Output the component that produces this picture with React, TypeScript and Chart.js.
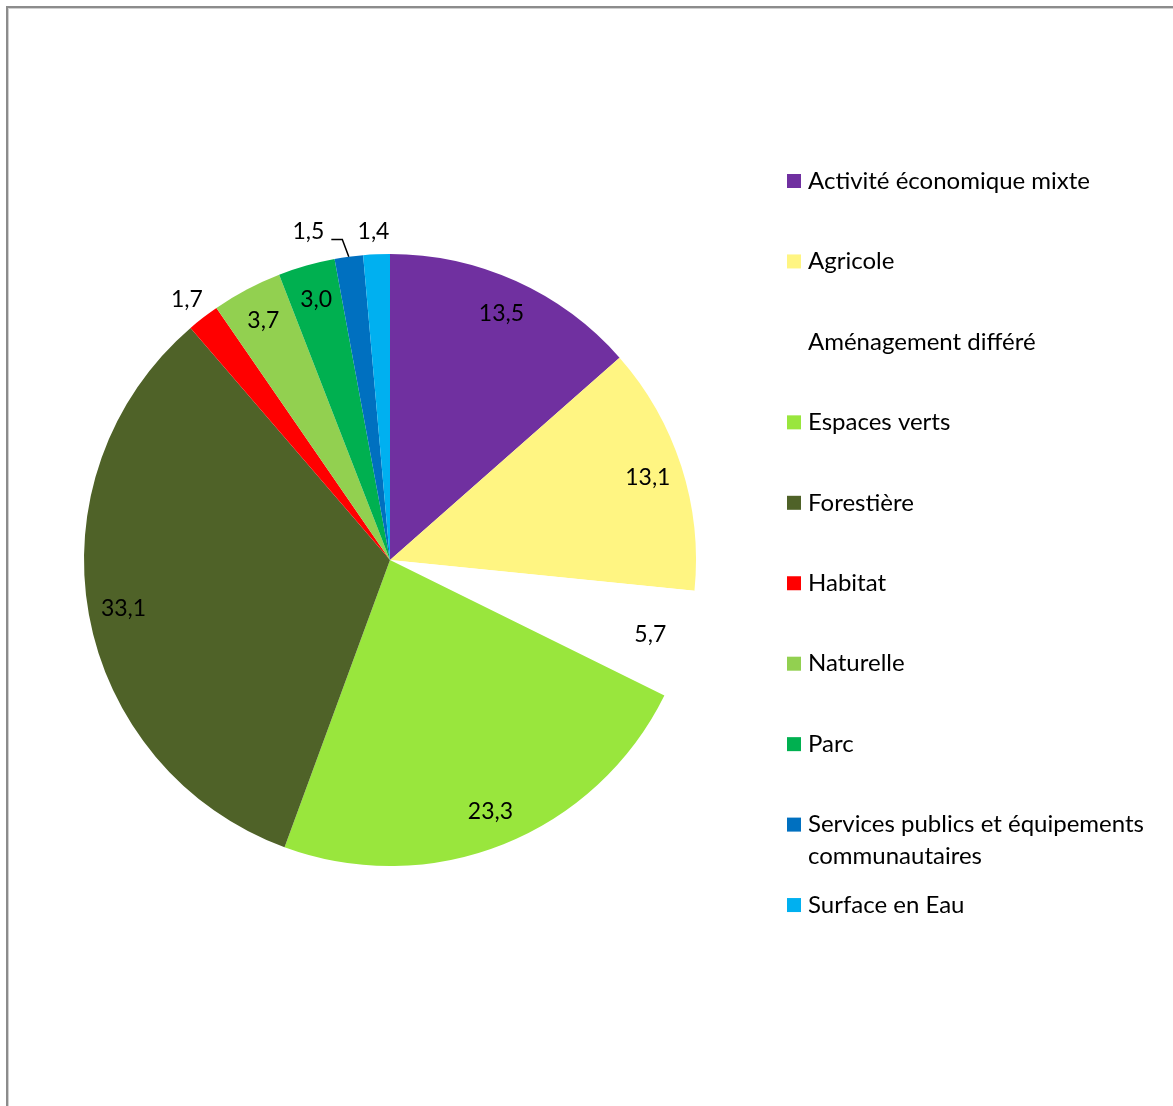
import React, { useEffect, useRef } from "react";
import { Chart, registerables } from "chart.js";

Chart.register(...registerables);

const categories = [
  "Activité économique mixte",
  "Agricole",
  "Aménagement différé",
  "Espaces verts",
  "Forestière",
  "Habitat",
  "Naturelle",
  "Parc",
  "Services publics et équipements communautaires",
  "Surface en Eau",
];
const values = [13.5, 13.1, 5.7, 23.3, 33.1, 1.7, 3.7, 3.0, 1.5, 1.4];
const colors = [
  "#7030A0",
  "#FFF582",
  "#FFFFFF",
  "#99E63D",
  "#4F6228",
  "#FF0000",
  "#92D050",
  "#00B050",
  "#0070C0",
  "#00B0F0",
];
// where each value label goes: inside the slice, outside, or outside with a leader line
const labelPlacement = ["in", "in", "in", "in", "in", "out", "in", "in", "leader", "out"];

const FONT = "Lato, 'Open Sans', sans-serif";

const fmt = (v: number) => v.toFixed(1).replace(".", ",");

const framePlugin = {
  id: "frame",
  beforeDraw(chart: any) {
    const ctx = chart.ctx;
    ctx.save();
    ctx.fillStyle = "#ffffff";
    ctx.fillRect(0, 0, chart.width, chart.height);
    ctx.fillStyle = "#8c8c8c";
    ctx.fillRect(6, 6, 2, chart.height);
    ctx.fillRect(6, 6, chart.width, 2);
    ctx.fillStyle = "#d0d0d0";
    ctx.fillRect(8, 8, 1, chart.height);
    ctx.fillRect(8, 8, chart.width, 1);
    ctx.restore();
  },
};

const labelsPlugin = {
  id: "sliceLabels",
  afterDatasetsDraw(chart: any) {
    const ctx = chart.ctx;
    const meta = chart.getDatasetMeta(0);
    ctx.save();
    ctx.font = `23px ${FONT}`;
    ctx.fillStyle = "#000000";
    ctx.textBaseline = "middle";
    meta.data.forEach((arc: any, i: number) => {
      const { x, y, startAngle, endAngle, outerRadius } = arc.getProps(
        ["x", "y", "startAngle", "endAngle", "outerRadius"],
        true
      );
      const mid = (startAngle + endAngle) / 2;
      const txt = fmt(values[i]);
      const place = labelPlacement[i];
      if (place === "in") {
        const r = outerRadius * 0.885;
        ctx.textAlign = "center";
        ctx.fillText(txt, x + Math.cos(mid) * r, y + Math.sin(mid) * r);
      } else if (place === "out") {
        const r = outerRadius * 1.077;
        ctx.textAlign = "center";
        ctx.fillText(txt, x + Math.cos(mid) * r - 2, y + Math.sin(mid) * r + 1);
      } else {
        const ex = x + Math.cos(mid) * outerRadius;
        const ey = y + Math.sin(mid) * outerRadius;
        const rr = outerRadius * 1.06;
        const bx = x + Math.cos(mid) * rr - 4;
        const by = y + Math.sin(mid) * rr + 1;
        const hx = bx - 11;
        ctx.strokeStyle = "#000000";
        ctx.lineWidth = 1.5;
        ctx.beginPath();
        ctx.moveTo(ex, ey);
        ctx.lineTo(bx, by);
        ctx.lineTo(hx, by);
        ctx.stroke();
        ctx.textAlign = "right";
        ctx.fillText(txt, hx - 7, by - 8);
      }
    });
    ctx.restore();
  },
};

const legendPlugin = {
  id: "sideLegend",
  afterDraw(chart: any) {
    const ctx = chart.ctx;
    ctx.save();
    ctx.font = `24px ${FONT}`;
    ctx.textBaseline = "middle";
    ctx.textAlign = "left";
    const x0 = 787;
    const y0 = 181;
    const step = 80.45;
    const maxW = 360;
    categories.forEach((name, i) => {
      const cy = y0 + i * step;
      ctx.fillStyle = colors[i];
      ctx.fillRect(x0, cy - 7, 14, 14);
      ctx.fillStyle = "#000000";
      const words = name.split(" ");
      const lines: string[] = [];
      let cur = "";
      for (const w of words) {
        const test = cur ? cur + " " + w : w;
        if (ctx.measureText(test).width > maxW && cur) {
          lines.push(cur);
          cur = w;
        } else cur = test;
      }
      lines.push(cur);
      lines.forEach((l, k) => ctx.fillText(l, x0 + 21, cy + k * 32));
    });
    ctx.restore();
  },
};

export default function App() {
  const ref = useRef<HTMLCanvasElement>(null);
  useEffect(() => {
    if (!ref.current) return;
    const chart = new Chart(ref.current, {
      type: "pie",
      data: {
        labels: categories,
        datasets: [
          {
            data: values,
            backgroundColor: colors,
            borderWidth: 0,
          },
        ],
      },
      options: {
        responsive: false,
        animation: false,
        devicePixelRatio: 1,
        layout: { padding: { left: 84, right: 477, top: 254, bottom: 240 } },
        plugins: {
          legend: { display: false },
          tooltip: { enabled: false },
        },
      },
      plugins: [framePlugin, labelsPlugin, legendPlugin],
    });
    return () => chart.destroy();
  }, []);
  return (
    <div style={{ position: "fixed", left: 0, top: 0, width: 1173, height: 1106, overflow: "hidden" }}>
      <canvas ref={ref} width={1173} height={1106} style={{ display: "block" }} />
    </div>
  );
}
